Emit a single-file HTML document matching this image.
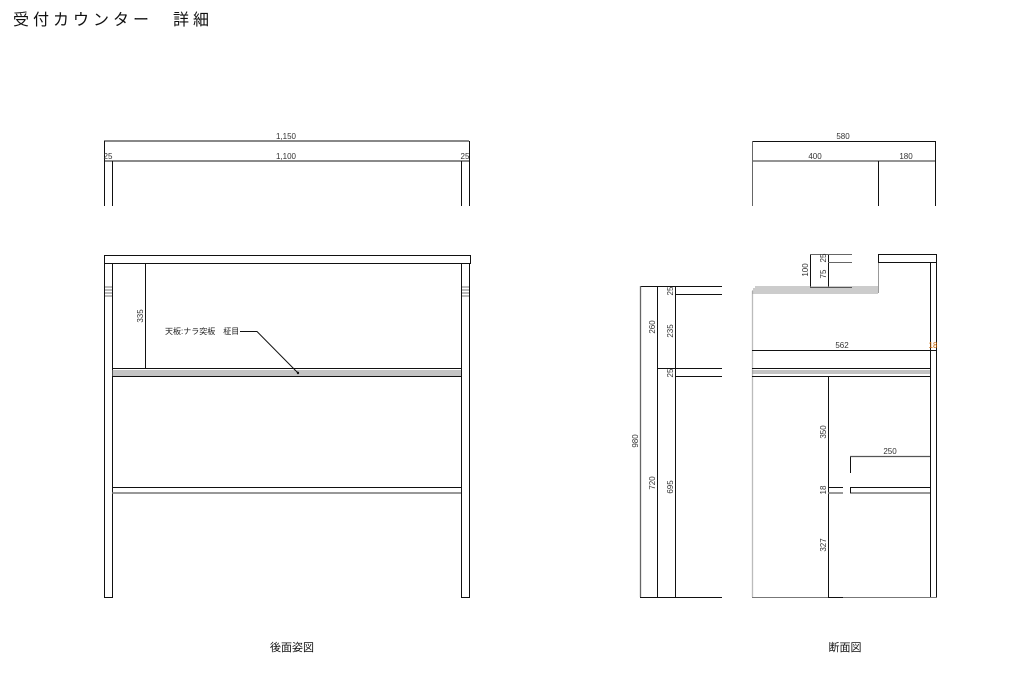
<!DOCTYPE html>
<html><head><meta charset="utf-8"><style>
html,body{margin:0;padding:0;background:#fff;}
svg{display:block}
text{font-family:"Liberation Sans","Noto Sans CJK JP",sans-serif;}
.d{font-size:8px;fill:#333}
</style></head><body>
<svg width="1023" height="675" viewBox="0 0 1023 675" xmlns="http://www.w3.org/2000/svg">
<rect width="1023" height="675" fill="#fff"/>
<text x="13" y="25" font-size="16" letter-spacing="4" fill="#111">受付カウンター　詳細</text>
<g stroke="#111" stroke-width="1" fill="none">
<!-- rear elevation dims -->
<line x1="104" y1="141" x2="469" y2="141"/>
<line x1="104" y1="161" x2="469" y2="161" stroke="#444" stroke-width="1.3"/>
<line x1="104.5" y1="141" x2="104.5" y2="206"/>
<line x1="112.5" y1="161" x2="112.5" y2="206"/>
<line x1="461.5" y1="161" x2="461.5" y2="206"/>
<line x1="469.5" y1="141" x2="469.5" y2="206"/>
<!-- rear elevation -->
<rect x="104.5" y="255.5" width="366" height="8"/>
<line x1="104.5" y1="263" x2="104.5" y2="597"/>
<line x1="112.5" y1="263" x2="112.5" y2="597"/>
<line x1="104" y1="597.5" x2="113" y2="597.5"/>
<line x1="461.5" y1="263" x2="461.5" y2="597"/>
<line x1="469.5" y1="263" x2="469.5" y2="597"/>
<line x1="461" y1="597.5" x2="470" y2="597.5"/>
<g stroke="#777"><line x1="105" y1="287" x2="112" y2="287"/><line x1="105" y1="290" x2="112" y2="290"/><line x1="105" y1="293" x2="112" y2="293"/><line x1="105" y1="296" x2="112" y2="296"/>
<line x1="462" y1="287" x2="469" y2="287"/><line x1="462" y1="290" x2="469" y2="290"/><line x1="462" y1="293" x2="469" y2="293"/><line x1="462" y1="296" x2="469" y2="296"/></g>
<line x1="112" y1="368.5" x2="461" y2="368.5"/>
<g stroke="#888"><line x1="112" y1="371" x2="461" y2="371"/><line x1="112" y1="373" x2="461" y2="373"/><line x1="112" y1="375" x2="461" y2="375"/></g>
<line x1="112" y1="376.5" x2="461" y2="376.5"/>
<line x1="112" y1="487.5" x2="461" y2="487.5"/>
<line x1="112" y1="493" x2="461" y2="493" stroke="#777" stroke-width="1.5"/>
<line x1="145.5" y1="263" x2="145.5" y2="369"/>
<polyline points="240,331.5 257,331.5 298,373"/>
<!-- section dims top -->
<line x1="752" y1="141.5" x2="936" y2="141.5"/>
<line x1="752" y1="161" x2="936" y2="161" stroke="#555" stroke-width="1.3"/>
<line x1="752.5" y1="141" x2="752.5" y2="206" stroke="#666"/>
<line x1="878.5" y1="161" x2="878.5" y2="206"/>
<line x1="935.5" y1="141" x2="935.5" y2="206"/>
<!-- section left dims -->
<line x1="640" y1="286.5" x2="722" y2="286.5"/>
<line x1="675" y1="294.5" x2="722" y2="294.5"/>
<line x1="657" y1="368.5" x2="722" y2="368.5"/>
<line x1="675" y1="376.5" x2="722" y2="376.5"/>
<line x1="640" y1="597.5" x2="722" y2="597.5"/>
<line x1="640.5" y1="286" x2="640.5" y2="597" stroke="#666" stroke-width="1.3"/>
<line x1="657.5" y1="286" x2="657.5" y2="597"/>
<line x1="675.5" y1="286" x2="675.5" y2="597"/>
<!-- section body -->
<line x1="810.5" y1="254" x2="810.5" y2="287"/>
<line x1="828.5" y1="254" x2="828.5" y2="287"/>
<line x1="810" y1="254.5" x2="852" y2="254.5" stroke="#666"/>
<line x1="828" y1="262.5" x2="852" y2="262.5" stroke="#666"/>
<line x1="810" y1="287.5" x2="852" y2="287.5"/>
<line x1="752.5" y1="291" x2="752.5" y2="597" stroke="#bbb" stroke-width="1.3"/>
<g stroke="#999"><line x1="755" y1="287" x2="878" y2="287"/><line x1="753" y1="289" x2="878" y2="289"/><line x1="752" y1="291" x2="878" y2="291"/><line x1="752" y1="293" x2="878" y2="293"/></g>
<line x1="878.5" y1="262" x2="878.5" y2="293" stroke="#999"/>
<rect x="878.5" y="254.5" width="58" height="8"/>
<line x1="930.5" y1="262" x2="930.5" y2="597"/>
<line x1="936.5" y1="262" x2="936.5" y2="597"/>
<line x1="752" y1="350.5" x2="936" y2="350.5"/>
<line x1="752" y1="368.5" x2="930" y2="368.5"/>
<g stroke="#888"><line x1="752" y1="371" x2="930" y2="371"/><line x1="752" y1="373" x2="930" y2="373"/></g>
<line x1="752" y1="376.5" x2="930" y2="376.5"/>
<line x1="828.5" y1="376" x2="828.5" y2="597"/>
<line x1="752" y1="597.5" x2="937" y2="597.5" stroke="#777"/>
<line x1="828" y1="597.5" x2="843" y2="597.5"/>
<line x1="850.5" y1="456" x2="850.5" y2="473"/>
<line x1="850" y1="456.5" x2="930" y2="456.5" stroke="#555" stroke-width="1.3"/>
<line x1="850" y1="487.5" x2="930" y2="487.5"/>
<line x1="850" y1="493" x2="930" y2="493" stroke="#777" stroke-width="1.5"/>
<line x1="850.5" y1="487" x2="850.5" y2="493"/>
<line x1="828" y1="487.5" x2="843" y2="487.5"/>
<line x1="828" y1="493" x2="843" y2="493" stroke="#777" stroke-width="1.5"/>
</g>
<circle cx="298" cy="373" r="1.2" fill="#111"/>
<!-- dim texts -->
<g class="d" text-anchor="middle">
<text x="286" y="139">1,150</text>
<text x="286" y="159">1,100</text>
<text x="108" y="159">25</text>
<text x="465" y="159">25</text>
<text x="843" y="139">580</text>
<text x="815" y="159">400</text>
<text x="906" y="159">180</text>
<text x="842" y="348">562</text>
<text x="933" y="348" fill="#c60">18</text>
<text x="890" y="454">250</text>
</g>
<g class="d" text-anchor="middle">
<text transform="translate(143,316) rotate(-90)">335</text>
<text transform="translate(638,441) rotate(-90)">980</text>
<text transform="translate(655,327) rotate(-90)">260</text>
<text transform="translate(655,483) rotate(-90)">720</text>
<text transform="translate(673,291) rotate(-90)">25</text>
<text transform="translate(673,331) rotate(-90)">235</text>
<text transform="translate(673,373) rotate(-90)">25</text>
<text transform="translate(673,487) rotate(-90)">695</text>
<text transform="translate(808,270) rotate(-90)">100</text>
<text transform="translate(826,258) rotate(-90)">25</text>
<text transform="translate(826,274) rotate(-90)">75</text>
<text transform="translate(826,432) rotate(-90)">350</text>
<text transform="translate(826,490) rotate(-90)">18</text>
<text transform="translate(826,545) rotate(-90)">327</text>
</g>
<text x="165" y="334" font-size="8" fill="#222">天板:ナラ突板　柾目</text>
<text x="292" y="651" font-size="11" text-anchor="middle" fill="#111">後面姿図</text>
<text x="845" y="651" font-size="11" text-anchor="middle" fill="#111">断面図</text>
</svg>
</body></html>
